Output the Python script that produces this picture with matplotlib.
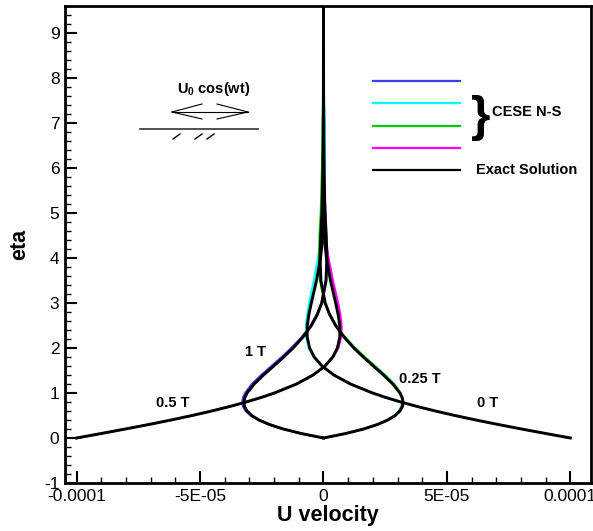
import matplotlib
matplotlib.use("Agg")
import matplotlib.pyplot as plt
from matplotlib.lines import Line2D
from matplotlib.ticker import MultipleLocator, FixedLocator

plt.rcParams["font.family"] = ["Liberation Sans", "DejaVu Sans"]
plt.rcParams["mathtext.fontset"] = "custom"
plt.rcParams["mathtext.rm"] = "Liberation Sans"
plt.rcParams["mathtext.bf"] = "Liberation Sans:bold"
plt.rcParams["axes.unicode_minus"] = False

# wall distance eta, shared by all profiles
eta = [0, 0.1, 0.2, 0.3, 0.4, 0.5, 0.6, 0.7, 0.8, 0.9, 1.0, 1.2, 1.4, 1.6, 1.8,
       2.0, 2.25, 2.5, 2.75, 3.0, 3.5, 4.0, 4.5, 5.0, 6.0, 7.0, 7.5, 8.0, 9.8]

# U velocity in units of 1E-05
exact_0T = [10.0, 9.003, 8.024, 7.077, 6.174, 5.323, 4.529, 3.798, 3.130, 2.527,
            1.988, 1.092, 0.419, -0.059, -0.376, -0.563, -0.662, -0.658, -0.591,
            -0.493, -0.283, -0.120, -0.023, 0.019, 0.024, 0.007, 0.002, 0.0, 0.0]
exact_025T = [0.0, 0.903, 1.627, 2.189, 2.610, 2.908, 3.099, 3.199, 3.223, 3.185,
              3.096, 2.807, 2.430, 2.018, 1.610, 1.230, 0.820, 0.491, 0.244,
              0.070, -0.106, -0.139, -0.109, -0.065, -0.007, 0.006, 0.005, 0.003, 0.0]
exact_05T = [-10.0, -9.003, -8.024, -7.077, -6.174, -5.323, -4.529, -3.798, -3.130,
             -2.527, -1.988, -1.092, -0.419, 0.059, 0.376, 0.563, 0.662, 0.658,
             0.591, 0.493, 0.283, 0.120, 0.023, -0.019, -0.024, -0.007, -0.002, 0.0, 0.0]
exact_1T = [0.0, -0.903, -1.627, -2.189, -2.610, -2.908, -3.099, -3.199, -3.223,
            -3.185, -3.096, -2.807, -2.430, -2.018, -1.610, -1.230, -0.820, -0.491,
            -0.244, -0.070, 0.106, 0.139, 0.109, 0.065, 0.007, -0.006, -0.005, -0.003, 0.0]

# CESE N-S results
cese_1T = [0.0, -0.91, -1.64, -2.21, -2.64, -2.95, -3.15, -3.26, -3.29, -3.26, -3.17,
           -2.90, -2.52, -2.10, -1.69, -1.30, -0.87, -0.52, -0.26, -0.08, 0.09, 0.13,
           0.11, 0.07, 0.01, -0.01, 0.0, 0.0, 0.0]
cese_0T = [10.0, 9.00, 8.02, 7.07, 6.17, 5.32, 4.53, 3.80, 3.13, 2.53, 1.99, 1.09,
           0.41, -0.07, -0.40, -0.59, -0.70, -0.71, -0.66, -0.58, -0.39, -0.22, -0.09,
           -0.02, 0.06, 0.06, 0.02, 0.0, 0.0]
cese_025T = [0.0, 0.90, 1.62, 2.17, 2.58, 2.88, 3.06, 3.16, 3.20, 3.19, 3.12, 2.86,
             2.49, 2.08, 1.67, 1.28, 0.86, 0.51, 0.24, 0.05, -0.14, -0.18, -0.16,
             -0.11, -0.06, -0.03, -0.01, 0.0, 0.0]
cese_05T = [-10.0, -9.00, -8.02, -7.07, -6.17, -5.32, -4.53, -3.80, -3.13, -2.53,
            -1.99, -1.09, -0.41, 0.07, 0.39, 0.60, 0.72, 0.73, 0.68, 0.59, 0.38, 0.20,
            0.08, 0.02, 0.0, 0.0, 0.0, 0.0, 0.0]

scale = 1e-5

xticks = [-1e-4, -5e-5, 0, 5e-5, 1e-4]
xticklabels = ["-0.0001", "-5E-05", "0", "5E-05", "0.0001"]
yticks = list(range(-1, 10))

curve_labels = ["0.5 T", "1 T", "0.25 T", "0 T"]
label_x = [-6.79e-5, -3.18e-5, 3.06e-5, 6.22e-5]
label_y = [0.78, 1.91, 1.31, 0.78]

fig = plt.figure(figsize=(5.93, 5.31), dpi=100)
ax = fig.add_axes([65 / 593, 48 / 531, 526 / 593, 477.5 / 531])

cese = [(cese_1T, "#3c3cf0"), (cese_0T, "#00ffff"),
        (cese_025T, "#00c800"), (cese_05T, "#ff00ff")]
for u, c in cese:
    ax.plot([v * scale for v in u], eta, color=c, lw=1.6, solid_joinstyle="round")
for u in (exact_0T, exact_025T, exact_05T, exact_1T):
    ax.plot([v * scale for v in u], eta, color="black", lw=2.1, solid_joinstyle="round")

for s, x, y in zip(curve_labels, label_x, label_y):
    ax.text(x, y, s, fontsize=10.5, fontweight="bold", va="center", ha="left")

ax.set_xlim(-1.0474e-4, 1.0839e-4)
ax.set_ylim(-1, 9.61)
ax.xaxis.set_major_locator(FixedLocator(xticks))
ax.set_xticklabels(xticklabels)
ax.xaxis.set_minor_locator(MultipleLocator(1e-5))
ax.set_yticks(yticks)
ax.yaxis.set_minor_locator(MultipleLocator(0.2))
ax.tick_params(which="both", direction="in", labelsize=12.5, top=False, right=False)
ax.tick_params(which="major", length=8.5, width=1.5, pad=4)
ax.tick_params(which="minor", length=4.5, width=1.0)
for sp in ax.spines.values():
    sp.set_linewidth(2.0)

ax.set_xlabel("U velocity", fontsize=15.5, fontweight="bold", labelpad=1)
ax.set_ylabel("eta", fontsize=15.5, fontweight="bold", labelpad=10)


def af(px, py):
    # pixel position -> axes fraction
    return (px - 65) / 526, (483 - py) / 477.5


def seg(p0, p1, **kw):
    (x0, y0), (x1, y1) = af(*p0), af(*p1)
    ax.add_line(Line2D([x0, x1], [y0, y1], transform=ax.transAxes, **kw))


# oscillating wall sketch
tx, ty = af(214, 89)
ax.text(tx, ty, r"$\mathbf{U_0}$ cos(wt)", transform=ax.transAxes, fontsize=10.5,
        fontweight="bold", ha="center", va="center")
thin = dict(color="black", lw=0.8)
seg((172, 112), (248, 112), **thin)
seg((172, 112), (202, 104), **thin)
seg((172, 112), (202, 119), **thin)
seg((248, 112), (217, 104), **thin)
seg((248, 112), (217, 119), **thin)
seg((140, 129), (258, 129), color="#333333", lw=1.2)
for x0 in (173, 195, 207):
    seg((x0, 139), (x0 + 7, 134), color="black", lw=1.0)

# legend
leg_colors = ["#3c3cf0", "#00ffff", "#00c800", "#ff00ff", "black"]
leg_y = [81, 103, 126, 148, 170]
for c, y in zip(leg_colors, leg_y):
    seg((373, y), (460, y), color=c, lw=1.6)
bx, by = af(481, 118)
ax.text(bx, by, "}", transform=ax.transAxes, fontsize=36, fontweight="bold",
        ha="center", va="center")
cx, cy = af(492, 112)
ax.text(cx, cy, "CESE N-S", transform=ax.transAxes, fontsize=10.5,
        fontweight="bold", ha="left", va="center")
ex, ey = af(476, 170)
ax.text(ex, ey, "Exact Solution", transform=ax.transAxes, fontsize=10.5,
        fontweight="bold", ha="left", va="center")

fig.savefig("out.png", dpi=100)
